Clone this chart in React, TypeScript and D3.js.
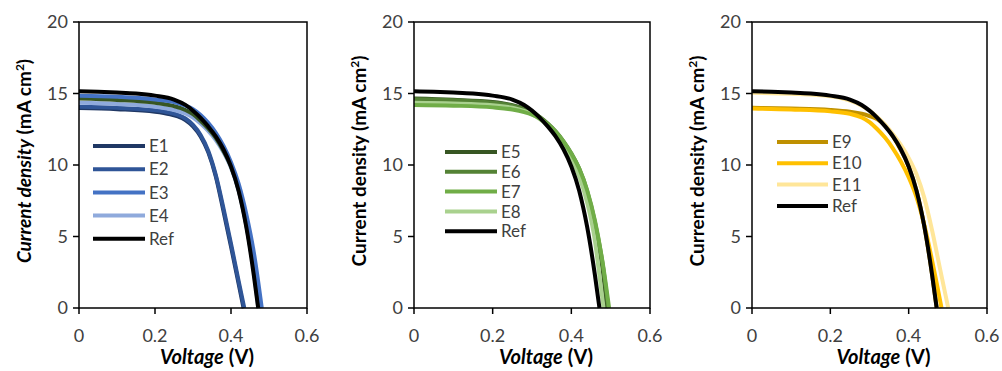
import * as d3 from 'd3';

// J-V curves, [voltage (V), current density (mA cm^-2)]
const ref = [[0, 15.15], [0.05, 15.12], [0.1, 15.07], [0.15, 15.0], [0.2, 14.85], [0.25, 14.58], [0.28, 14.2], [0.3, 13.8], [0.32, 13.3], [0.34, 12.7], [0.36, 12.0], [0.38, 11.1], [0.4, 9.9], [0.42, 8.2], [0.44, 5.7], [0.46, 2.3], [0.4715, 0]];

const e1 = [[0, 13.98], [0.1, 13.9], [0.2, 13.73], [0.24, 13.55], [0.26, 13.4], [0.28, 13.15], [0.3, 12.7], [0.32, 12.0], [0.34, 10.9], [0.36, 9.2], [0.38, 6.8], [0.4, 4.3], [0.42, 1.7], [0.433, 0]];
const e2 = [[0, 14.08], [0.1, 14.0], [0.2, 13.83], [0.24, 13.65], [0.26, 13.5], [0.28, 13.25], [0.3, 12.8], [0.32, 12.1], [0.34, 11.0], [0.36, 9.3], [0.38, 7.0], [0.4, 4.5], [0.42, 1.9], [0.435, 0]];
const e3 = [[0, 14.85], [0.1, 14.77], [0.2, 14.58], [0.25, 14.4], [0.28, 14.15], [0.3, 13.9], [0.32, 13.5], [0.34, 12.95], [0.36, 12.25], [0.38, 11.35], [0.4, 10.2], [0.42, 8.7], [0.44, 6.6], [0.46, 3.9], [0.481, 0]];
const e4 = [[0, 14.35], [0.1, 14.27], [0.2, 14.08], [0.25, 13.85], [0.28, 13.6], [0.3, 13.32], [0.32, 12.9], [0.34, 12.38], [0.36, 11.75], [0.38, 10.9], [0.4, 9.8], [0.42, 8.2], [0.44, 5.8], [0.46, 2.6], [0.472, 0]];
// unlabelled dark green trace visible in the first panel
const extra = [[0, 14.65], [0.1, 14.55], [0.2, 14.35], [0.25, 14.12], [0.28, 13.85], [0.3, 13.55], [0.32, 13.1], [0.34, 12.55], [0.36, 11.9], [0.38, 11.0], [0.4, 9.9], [0.42, 8.3], [0.44, 5.9], [0.46, 2.7], [0.474, 0]];

const e5 = [[0, 14.65], [0.1, 14.56], [0.2, 14.4], [0.25, 14.18], [0.28, 13.94], [0.3, 13.7], [0.32, 13.33], [0.34, 12.85], [0.36, 12.28], [0.38, 11.55], [0.4, 10.68], [0.42, 9.6], [0.44, 8.0], [0.46, 5.7], [0.48, 2.6], [0.49, 0]];
const e6 = [[0, 14.6], [0.1, 14.52], [0.2, 14.36], [0.25, 14.15], [0.28, 13.92], [0.3, 13.7], [0.32, 13.35], [0.34, 12.9], [0.36, 12.35], [0.38, 11.65], [0.4, 10.8], [0.42, 9.75], [0.44, 8.2], [0.46, 6.0], [0.48, 3.0], [0.494, 0]];
const e7 = [[0, 14.2], [0.1, 14.15], [0.2, 14.03], [0.25, 13.88], [0.28, 13.7], [0.3, 13.52], [0.32, 13.25], [0.34, 12.85], [0.36, 12.33], [0.38, 11.65], [0.4, 10.8], [0.42, 9.75], [0.44, 8.25], [0.46, 6.1], [0.48, 3.1], [0.496, 0]];
const e8 = [[0, 14.35], [0.1, 14.3], [0.2, 14.18], [0.25, 14.0], [0.28, 13.78], [0.3, 13.55], [0.32, 13.2], [0.34, 12.75], [0.36, 12.15], [0.38, 11.4], [0.4, 10.45], [0.42, 9.2], [0.44, 7.4], [0.46, 4.7], [0.47, 2.6], [0.482, 0]];

const e9 = [[0, 14.0], [0.1, 13.95], [0.2, 13.85], [0.25, 13.72], [0.28, 13.58], [0.3, 13.42], [0.32, 13.2], [0.34, 12.75], [0.36, 12.0], [0.38, 11.05], [0.4, 9.9], [0.42, 8.2], [0.44, 5.7], [0.46, 2.3], [0.4715, 0]];
const e10 = [[0, 13.95], [0.1, 13.88], [0.2, 13.75], [0.25, 13.58], [0.28, 13.32], [0.3, 13.0], [0.32, 12.5], [0.34, 11.9], [0.36, 11.15], [0.38, 10.25], [0.4, 9.15], [0.42, 7.75], [0.44, 5.8], [0.46, 3.3], [0.484, 0]];
const e11 = [[0, 15.05], [0.1, 14.98], [0.2, 14.8], [0.25, 14.5], [0.28, 14.15], [0.3, 13.8], [0.32, 13.35], [0.34, 12.8], [0.36, 12.15], [0.38, 11.4], [0.4, 10.5], [0.42, 9.35], [0.44, 7.7], [0.46, 5.4], [0.48, 2.75], [0.501, 0]];

const xTicks = [0, 0.2, 0.4, 0.6];
const yTicks = [0, 5, 10, 15, 20];

type Series = { name: string; data: number[][]; color: string };

const panel1: Series[] = [
  { name: 'E1', data: e1, color: '#203864' },
  { name: 'E2', data: e2, color: '#2F5597' },
  { name: 'E4', data: e4, color: '#8FAADC' },
  { name: 'x', data: extra, color: '#375623' },
  { name: 'E3', data: e3, color: '#4472C4' },
  { name: 'Ref', data: ref, color: '#000000' },
];
const panel2: Series[] = [
  { name: 'E5', data: e5, color: '#375623' },
  { name: 'E6', data: e6, color: '#548235' },
  { name: 'E8', data: e8, color: '#A9D18E' },
  { name: 'E7', data: e7, color: '#70AD47' },
  { name: 'Ref', data: ref, color: '#000000' },
];
const panel3: Series[] = [
  { name: 'E9', data: e9, color: '#BF9000' },
  { name: 'E11', data: e11, color: '#FFE699' },
  { name: 'E10', data: e10, color: '#FFC000' },
  { name: 'Ref', data: ref, color: '#000000' },
];
const legendOrder = [
  ['E1', 'E2', 'E3', 'E4', 'Ref'],
  ['E5', 'E6', 'E7', 'E8', 'Ref'],
  ['E9', 'E10', 'E11', 'Ref'],
];

const FONT = 'Lato, "Open Sans", sans-serif';
const TICK = '#404040';

interface PanelProps {
  series: Series[];
  order: string[];
  x0: number;
  x1: number;
  leg: { lx: number; lw: number; y0: number; dy: number };
  italicY: boolean;
}

function Panel({ series, order, x0, x1, leg, italicY }: PanelProps) {
  const top = 22;
  const bottom = 308;
  const x = d3.scaleLinear().domain([0, 0.6]).range([x0, x1]);
  const y = d3.scaleLinear().domain([0, 20]).range([bottom, top]);
  const line = d3
    .line<number[]>()
    .x((d) => x(d[0]))
    .y((d) => y(d[1]))
    .curve(d3.curveMonotoneX);
  const byName = new Map(series.map((s) => [s.name, s]));
  const labelX = x0 - 48;
  const labelY = 161;

  return (
    <g>
      {series.map((s) => (
        <path key={s.name} d={line(s.data) ?? ''} fill="none" stroke={s.color} strokeWidth={4} />
      ))}
      <rect x={x0} y={top} width={x1 - x0} height={bottom - top} fill="none" stroke="#000" strokeWidth={1.5} />
      {yTicks.map((t) => (
        <g key={t}>
          <line x1={x0 - 6} x2={x0} y1={y(t)} y2={y(t)} stroke="#000" strokeWidth={1.5} />
          <text x={x0 - 11} y={y(t)} dy="0.36em" textAnchor="end" fontSize={18} fill={TICK} fontFamily={FONT}>
            {t}
          </text>
        </g>
      ))}
      {xTicks.map((t) => (
        <g key={t}>
          <line x1={x(t)} x2={x(t)} y1={bottom} y2={bottom + 6} stroke="#000" strokeWidth={1.5} />
          <text x={x(t)} y={342} textAnchor="middle" fontSize={18} fill={TICK} fontFamily={FONT}>
            {t}
          </text>
        </g>
      ))}
      <text x={(x0 + x1) / 2 + 14} y={364} textAnchor="middle" fontSize={20} fontWeight="bold" fontFamily={FONT}>
        <tspan fontStyle="italic">Voltage</tspan>
        <tspan> (V)</tspan>
      </text>
      <text
        transform={`translate(${labelX},${labelY}) rotate(-90)`}
        textAnchor="middle"
        fontSize={19}
        fontWeight="bold"
        fontFamily={FONT}
      >
        <tspan fontStyle={italicY ? 'italic' : 'normal'}>Current density</tspan>
        <tspan> (mA cm</tspan>
        <tspan fontSize={12} dy={-7}>2</tspan>
        <tspan dy={7}>)</tspan>
      </text>
      {order.map((name, i) => {
        const s = byName.get(name)!;
        const ly = leg.y0 + i * leg.dy;
        return (
          <g key={name}>
            <line x1={leg.lx} x2={leg.lx + leg.lw} y1={ly} y2={ly} stroke={s.color} strokeWidth={4} />
            <text x={leg.lx + leg.lw + 4} y={ly} dy="0.36em" fontSize={17} fill={TICK} fontFamily={FONT}>
              {name}
            </text>
          </g>
        );
      })}
    </g>
  );
}

export default function App() {
  return (
    <svg width={1002} height={371} style={{ position: 'absolute', left: 0, top: 0, background: '#fff' }}>
      <Panel series={panel1} order={legendOrder[0]} x0={79} x1={307} leg={{ lx: 93, lw: 52, y0: 146, dy: 23.2 }} italicY={true} />
      <Panel series={panel2} order={legendOrder[1]} x0={414} x1={650} leg={{ lx: 445, lw: 52, y0: 152, dy: 19.8 }} italicY={false} />
      <Panel series={panel3} order={legendOrder[2]} x0={752} x1={987} leg={{ lx: 777, lw: 51, y0: 142, dy: 21.3 }} italicY={false} />
    </svg>
  );
}
